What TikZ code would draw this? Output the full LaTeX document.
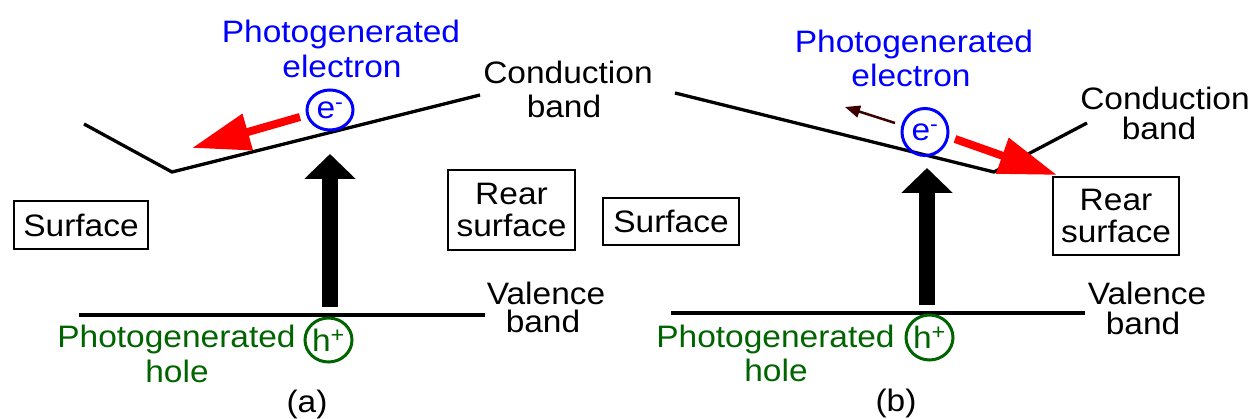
\documentclass[tikz,border=0pt]{standalone}
\usepackage{fontspec}
\setmainfont{Liberation Sans}[FakeStretch=1.08]
\usetikzlibrary{arrows.meta,shapes.geometric}
\definecolor{eblue}{RGB}{0,0,255}
\definecolor{hgreen}{RGB}{0,100,0}
\definecolor{ered}{RGB}{255,0,0}
\definecolor{darkarrow}{RGB}{60,0,0}
\begin{document}
\begin{tikzpicture}[x=1pt,y=-1pt,
  lbl/.style={font=\fontsize{31}{32}\selectfont, inner sep=0pt, anchor=base},
  bluelbl/.style={lbl, text=eblue},
  greenlbl/.style={lbl, text=hgreen},
  surfbox/.style={draw, line width=2.8pt, font=\fontsize{31}{32}\selectfont, align=center, inner sep=0pt},
  bandline/.style={line width=3.3pt},
  carrier/.style={ellipse, draw, line width=3pt, inner sep=0pt, font=\fontsize{31}{32}\selectfont},
  drift/.style={ered, line width=8pt, -{Triangle[length=58pt,width=36pt]}},
  photon/.style={black, line width=16pt, -{Triangle[length=25pt,width=50pt]}},
  back/.style={darkarrow, line width=2.5pt, -{Triangle[length=15pt,width=12pt]}}
]
\useasboundingbox (0,0) rectangle (1256,419);

% ---------------- panel (a) ----------------
\coordinate (ca1) at (84,124);
\coordinate (ca2) at (172,172);
\coordinate (ca3) at (480,95);
\draw[bandline] (ca1) -- (ca2) -- (ca3);
\coordinate (va1) at (79,315);
\coordinate (va2) at (485,315);
\draw[bandline] (va1) -- (va2);

\node[surfbox, minimum width=134pt, minimum height=48pt] (surfA) at (81,225) {Surface};
\node[surfbox, minimum width=127pt, minimum height=80pt] (rearA) at (511.5,210) {Rear\\surface};

\node[bluelbl] (peA) at (341,43) {Photogenerated};
\node[bluelbl] (elA) at (342,78) {electron};
\node[lbl] (cbA) at (568,84) {Conduction};
\node[lbl] (cbbA) at (564,118) {band};
\node[lbl] (vbA) at (546,305) {Valence};
\node[lbl] (vbbA) at (543,333) {band};
\node[greenlbl] (phA) at (176.5,348) {Photogenerated};
\node[greenlbl] (hoA) at (177,383) {hole};
\node[lbl] (capA) at (307,413) {(a)};

\node[carrier, eblue, minimum width=46pt, minimum height=40pt] (eA) at (330,110) {e\textsuperscript{-}};
\node[carrier, hgreen, minimum width=47pt, minimum height=44pt] (hA) at (328.5,340) {h\textsuperscript{+}};

\coordinate (raT) at (300,117);
\coordinate (raH) at (192,148);
\draw[drift] (raT) -- (raH);
\coordinate (pa1) at (330,307);
\coordinate (pa2) at (330,154);
\draw[photon] (pa1) -- (pa2);

% ---------------- panel (b) ----------------
\coordinate (cb1) at (675,93);
\coordinate (cb2) at (994,172);
\coordinate (cb3) at (1087,123);
\draw[bandline] (cb1) -- (cb2) -- (cb3);
\coordinate (vb1) at (671,313);
\coordinate (vb2) at (1085,313);
\draw[bandline] (vb1) -- (vb2);

\node[surfbox, minimum width=136pt, minimum height=47pt] (surfB) at (671,221.5) {Surface};
\node[surfbox, minimum width=126pt, minimum height=78pt] (rearB) at (1116,216) {Rear\\surface};

\node[bluelbl] (peB) at (914,53) {Photogenerated};
\node[bluelbl] (elB) at (911,87) {electron};
\node[lbl] (cbB) at (1165,110) {Conduction};
\node[lbl] (cbbB) at (1159,140) {band};
\node[lbl] (vbB) at (1147,305) {Valence};
\node[lbl] (vbbB) at (1143,335) {band};
\node[greenlbl] (phB) at (775.5,348) {Photogenerated};
\node[greenlbl] (hoB) at (776,382) {hole};
\node[lbl] (capB) at (896,412) {(b)};

\node[carrier, eblue, minimum width=46pt, minimum height=47pt] (eB) at (925,132) {e\textsuperscript{-}};
\node[carrier, hgreen, minimum width=47pt, minimum height=45pt] (hB) at (929.5,337.5) {h\textsuperscript{+}};

\coordinate (rbT) at (955,139);
\coordinate (rbH) at (1057,175);
\draw[drift] (rbT) -- (rbH);
\coordinate (bkT) at (895,123);
\coordinate (bkH) at (845,107);
\draw[back] (bkT) -- (bkH);
\coordinate (pb1) at (927,305);
\coordinate (pb2) at (927,168);
\draw[photon] (pb1) -- (pb2);
\end{tikzpicture}
\end{document}
